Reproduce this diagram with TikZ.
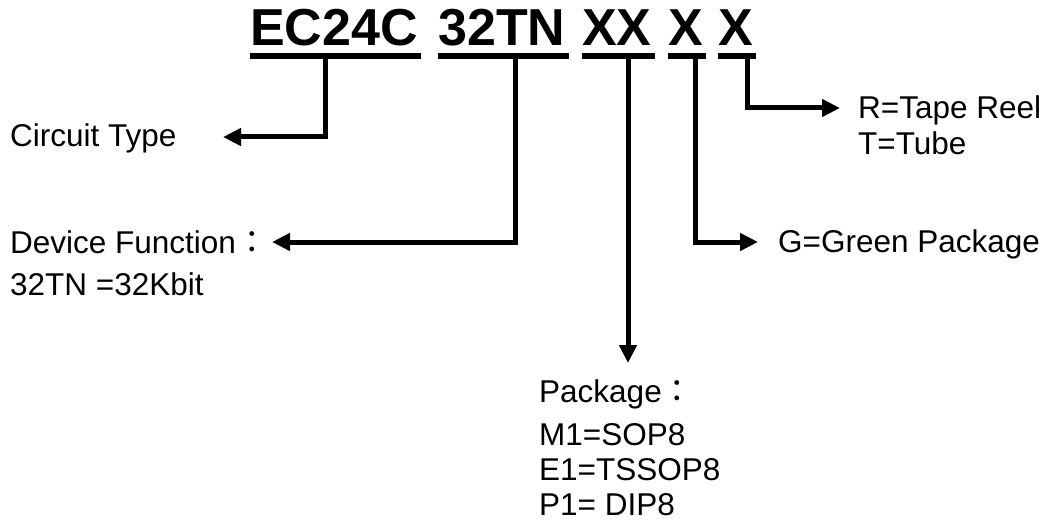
\documentclass[tikz,border=0pt]{standalone}
\usepackage{fontspec}
\setmainfont{Liberation Sans}
\newfontfamily\cjk{Noto Sans CJK TC}
\usetikzlibrary{arrows.meta,calc}
\tikzset{
  ttl/.style={font=\fontsize{52}{58}\selectfont\bfseries, inner sep=0pt, anchor=base west},
  lbl/.style={font=\fontsize{31.5}{36}\selectfont, inner sep=0pt, anchor=base west},
  uline/.style={line width=6pt},
  conn/.style={line width=5pt, line join=miter, -{Triangle[length=18pt,width=17pt]}}
}
\begin{document}
\begin{tikzpicture}[x=1pt,y=-1pt]
\useasboundingbox (0,0) rectangle (1053,524);
% title words
\node[ttl] (w1) at (250,46) {EC24C};
\node[ttl] (w2) at (438,46) {32TN};
\node[ttl] (w3) at (582,46) {XX};
\node[ttl] (w4) at (668,46) {X};
\node[ttl] (w5) at (718,46) {X};
\foreach \w in {w1,w2,w3,w4,w5}{
  \draw[uline] ($(\w.base west)+(0,10)$) -- ($(\w.base east)+(3,10)$);
}
% labels
\node[lbl] (ct) at (10,147) {Circuit Type};
\node[lbl] (df1) at (10,253) {Device Function{\cjk ：}};
\node[lbl] (df2) at (10,295) {32TN =32Kbit};
\node[lbl] (rr1) at (858,119) {R=Tape Reel};
\node[lbl] (rr2) at (858,155) {T=Tube};
\node[lbl] (gg) at (778,252) {G=Green Package};
\node[lbl] (pk1) at (539,402) {Package{\cjk ：}};
\node[lbl] (pk2) at (539,445) {M1=SOP8};
\node[lbl] (pk3) at (539,480) {E1=TSSOP8};
\node[lbl] (pk4) at (539,515) {P1= DIP8};
% stems and tips
\coordinate (s1) at (325,59);
\coordinate (s2) at (515,59);
\coordinate (s3) at (628,59);
\coordinate (s4) at (695,59);
\coordinate (s5) at (747,59);
\coordinate (t1) at (223,137);
\coordinate (t2) at (272,242);
\coordinate (t3) at (628,363);
\coordinate (t4) at (758,242);
\coordinate (t5) at (840,108);
\draw[conn] (s1) |- (t1);
\draw[conn] (s2) |- (t2);
\draw[conn] (s3) -- (t3);
\draw[conn] (s4) |- (t4);
\draw[conn] (s5) |- (t5);
\end{tikzpicture}
\end{document}
